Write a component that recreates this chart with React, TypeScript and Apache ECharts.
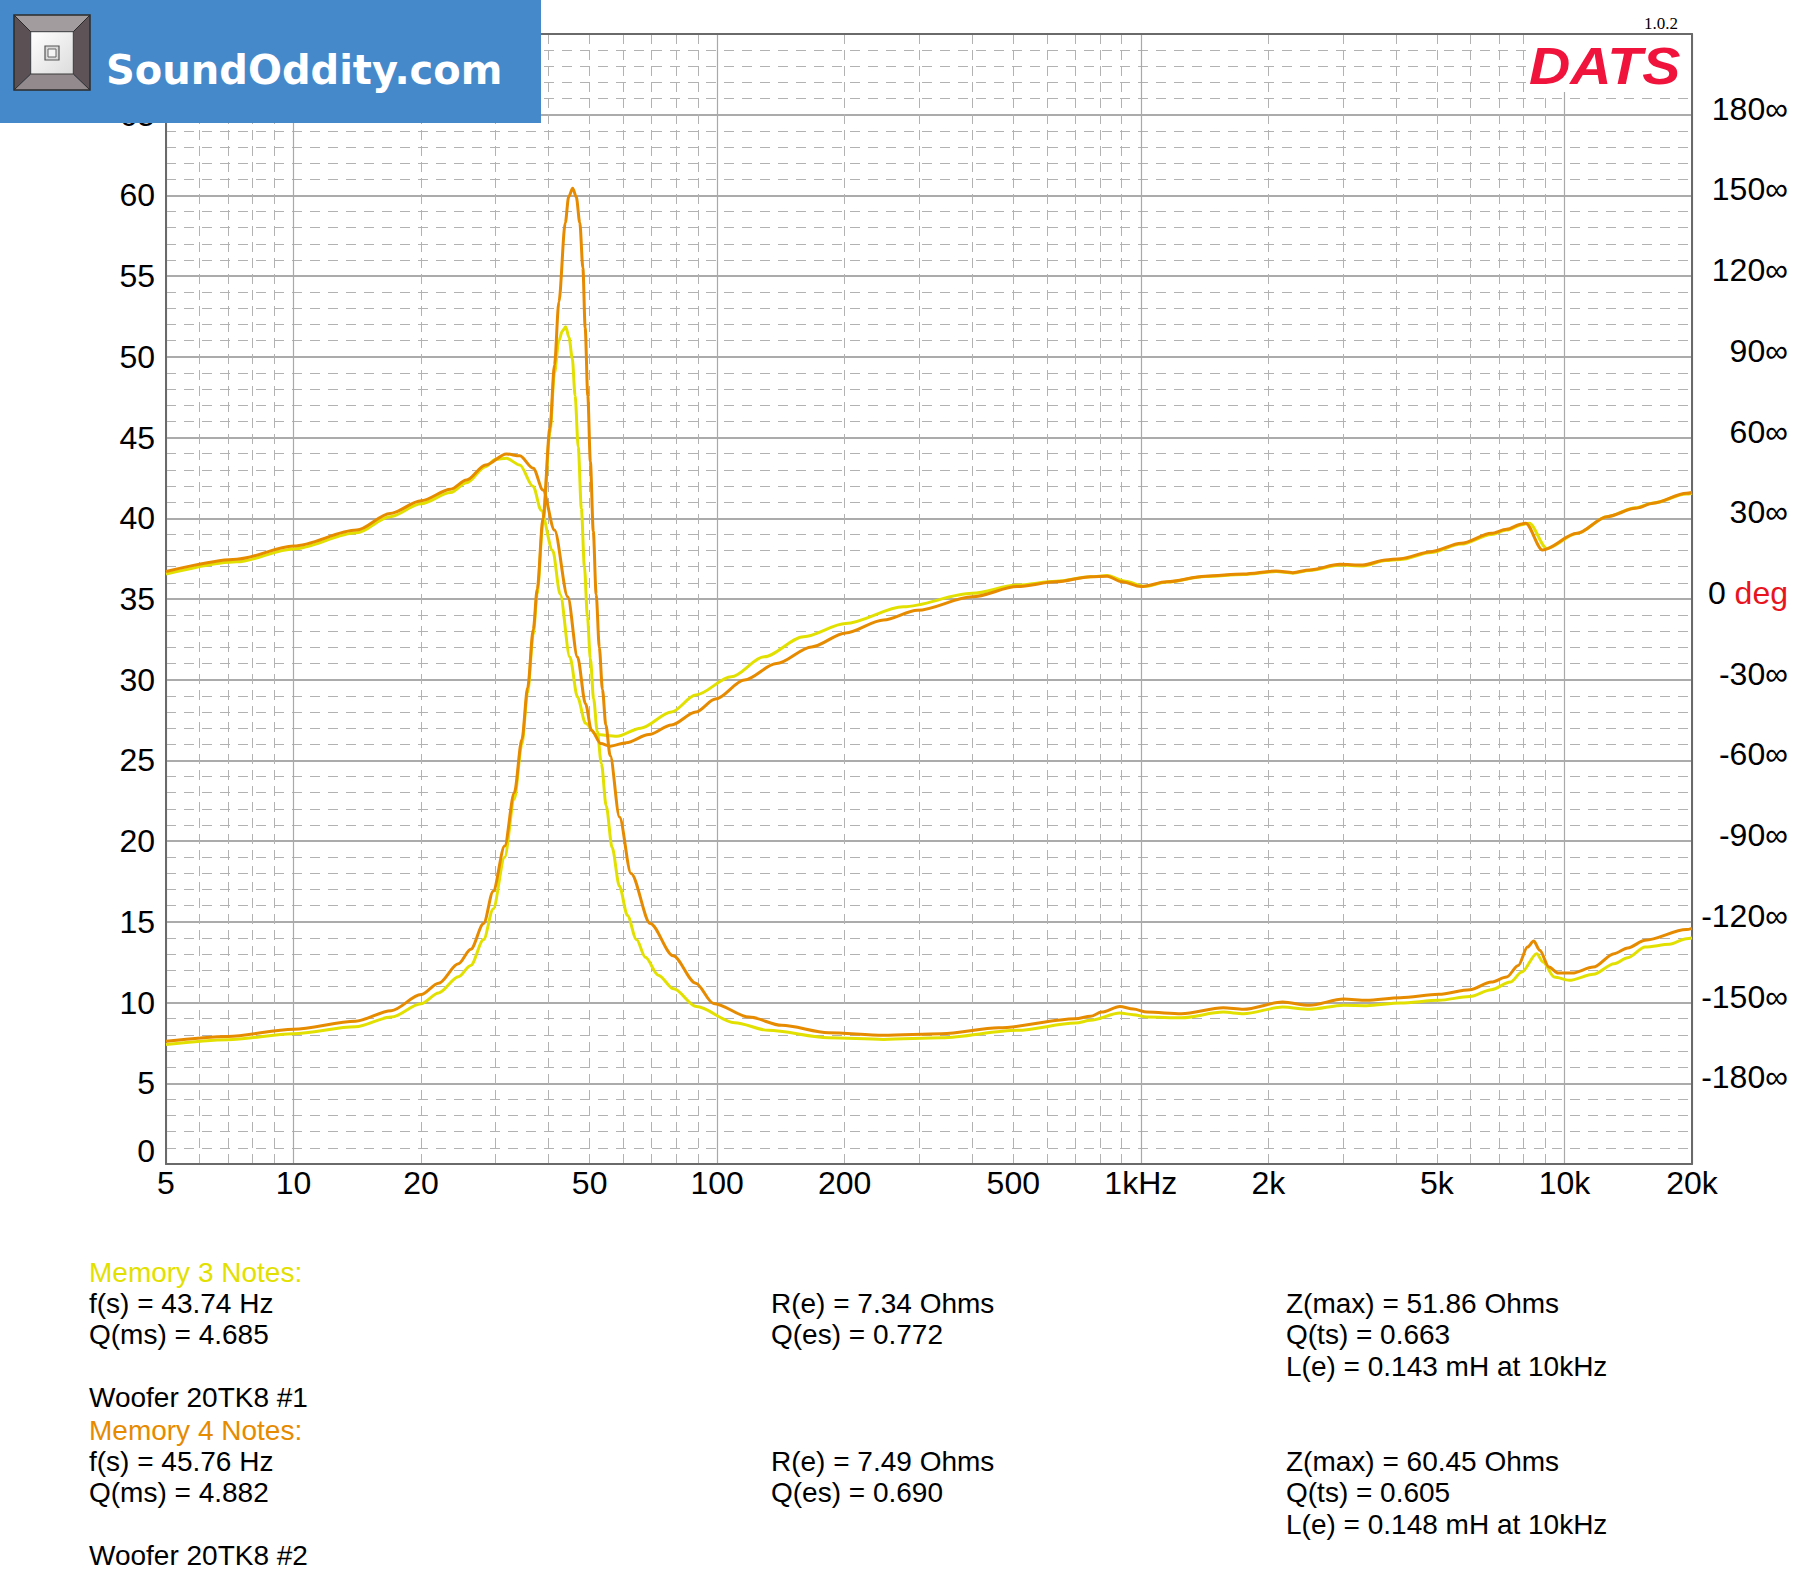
import React, { useEffect, useRef } from "react";
import * as echarts from "echarts";

// ---------- data ----------
const FREQ_LABELS = [5, 10, 20, 50, 100, 200, 500, 1000, 2000, 5000, 10000, 20000];
const FREQ_MINOR_GRID = [
  6, 7, 8, 9, 20, 30, 40, 50, 60, 70, 80, 90, 200, 300, 400, 500, 600, 700, 800, 900,
  2000, 3000, 4000, 5000, 6000, 7000, 8000, 9000,
];

// Impedance (Ohms) vs frequency (Hz)
const IMP_M3: [number, number][] = [
  [5, 7.4], [7, 7.7], [10, 8.07], [14, 8.5], [17, 9.1], [20, 9.93], [22, 10.6], [24.5, 11.6],
  [26.2, 12.3], [28.1, 13.9], [29.6, 15.8], [31.5, 19.0], [33.2, 22.6], [34.6, 26.0], [35.7, 29.2],
  [36.8, 32.8], [37.6, 35.3], [38.8, 39.7], [40.3, 45.3], [41.3, 49.0], [42.3, 51.0], [43.1, 51.6],
  [43.9, 51.86], [44.7, 51.2], [45.5, 49.9], [46.2, 47.6], [47.0, 44.4], [47.8, 40.6], [48.6, 37.0],
  [49.4, 33.9], [50.2, 31.3], [51.1, 28.8], [52.1, 26.8], [53.3, 24.8], [54.7, 22.2], [56.5, 19.6],
  [58.8, 17.2], [61.4, 15.4], [64.5, 13.9], [67.7, 12.8], [72.6, 11.7], [78.9, 10.85], [89.3, 9.75],
  [110, 8.75], [132, 8.28], [183, 7.82], [247, 7.72], [339, 7.82], [511, 8.28], [701, 8.73],
  [761, 8.9], [892, 9.35], [960, 9.25], [1034, 9.1], [1247, 9.06], [1565, 9.41], [1747, 9.31],
  [2160, 9.72], [2500, 9.58], [3010, 9.83], [3410, 9.81], [4100, 9.97], [5050, 10.14], [5980, 10.38],
  [6720, 10.8], [7450, 11.27], [7930, 11.89], [8600, 13.03], [8900, 12.51], [9460, 11.58],
  [10260, 11.38], [11700, 11.75], [13100, 12.41], [14100, 12.78], [15500, 13.44], [17700, 13.61],
  [19400, 13.96], [20000, 14.0],
];
const IMP_M4: [number, number][] = [
  [5, 7.6], [7, 7.9], [10, 8.35], [14, 8.85], [17, 9.5], [20, 10.5], [22, 11.2], [24.5, 12.4],
  [26.2, 13.3], [28.1, 14.9], [29.6, 16.9], [31.5, 19.7], [33.2, 23.0], [34.6, 26.3], [35.7, 29.5],
  [36.8, 33.1], [37.6, 35.6], [38.8, 40.0], [40.3, 45.6], [41.3, 49.5], [42.3, 53.4], [43.8, 58.3],
  [44.6, 59.9], [45.6, 60.45], [46.5, 59.9], [47.4, 58.3], [48.2, 55.5], [48.8, 51.8], [49.5, 47.6],
  [50.2, 43.5], [51.0, 39.2], [51.8, 35.3], [52.7, 32.0], [53.6, 29.4], [54.6, 27.2], [55.9, 25.3],
  [58.8, 21.5], [62.6, 18.0], [69.5, 14.9], [78.7, 12.9], [89, 11.2], [98, 9.95], [119, 9.1],
  [142, 8.59], [183, 8.13], [247, 7.97], [339, 8.07], [462, 8.44], [701, 9.0], [761, 9.15],
  [808, 9.41], [892, 9.76], [960, 9.6], [1034, 9.41], [1247, 9.31], [1565, 9.68], [1747, 9.58],
  [2160, 10.03], [2500, 9.83], [3010, 10.22], [3410, 10.14], [4100, 10.3], [5050, 10.51],
  [5980, 10.8], [6720, 11.27], [7300, 11.58], [7780, 12.3], [8180, 13.44], [8460, 13.81],
  [8740, 13.24], [9190, 12.2], [9660, 11.83], [10430, 11.83], [11700, 12.2], [13100, 13.03],
  [14100, 13.38], [15500, 13.86], [19400, 14.52], [20000, 14.6],
];

// Phase (degrees) vs frequency (Hz)
const PHASE_M3: [number, number][] = [
  [5, 9.3], [7.34, 13.8], [10, 18.6], [14.1, 24.6], [16.9, 30.6], [20, 35.4], [23.5, 39.6],
  [25.6, 43.2], [28.4, 49.2], [30, 51.9], [31.8, 52.3], [34.2, 49.8], [36.8, 41.8], [38.4, 33],
  [40.9, 18], [42.6, 1.8], [44.9, -21.6], [46.8, -36.4], [48.9, -46.2], [51.8, -50.4], [58, -51],
  [66, -48], [78, -42], [89, -35.7], [108, -28.9], [129, -21.5], [160, -14], [201, -9.1],
  [275, -2.9], [400, 2.1], [511, 5.2], [631, 6.6], [761, 8.3], [833, 8.7], [920, 6.6], [1020, 4.7],
  [1152, 6.3], [1418, 8.4], [1747, 9.1], [2086, 10.2], [2285, 9.6], [2500, 10.6], [2950, 12.6],
  [3340, 12.3], [3780, 14.3], [4100, 14.7], [4840, 17.3], [5700, 20.4], [6720, 24], [7300, 25.6],
  [7930, 27.6], [8260, 28.2], [9080, 18.8], [10700, 24.3], [12600, 30.6], [14700, 33.9],
  [16200, 35.7], [19400, 39], [20000, 39.3],
];
const PHASE_M4: [number, number][] = [
  [5, 10.2], [7.34, 14.8], [10, 19.7], [14.1, 25.6], [16.9, 31.8], [20, 36.5], [23.5, 40.8],
  [25.6, 44.2], [28.4, 49.8], [31.8, 53.9], [34.2, 53.2], [36.8, 48.6], [38.8, 40.5], [41.3, 25.6],
  [44.4, 0.8], [46.8, -21.6], [48.9, -39], [50.5, -48.8], [53.1, -53.7], [55.9, -54.7], [61, -53.4],
  [69, -50.4], [78, -46.8], [89, -42], [99, -37.2], [116, -30.1], [138, -24], [167, -17.8],
  [201, -12.6], [247, -7.8], [297, -4.2], [400, 0.8], [511, 4.6], [631, 6.4], [761, 8.3], [833, 8.5],
  [902, 6.4], [1000, 4.6], [1152, 6.4], [1418, 8.5], [1747, 9.3], [2086, 10.4], [2285, 9.8],
  [2500, 10.8], [2950, 12.9], [3340, 12.6], [3780, 14.5], [4100, 15], [4840, 17.6], [5700, 20.7],
  [6720, 24.4], [7300, 25.9], [7930, 27.9], [8100, 28.2], [8870, 18.2], [10700, 24.4],
  [12600, 30.6], [14700, 33.7], [16200, 35.6], [19400, 39.3], [20000, 39.6],
];

// Notes text
const M3_TITLE = "Memory 3 Notes:";
const M3_COL1 = ["f(s) = 43.74 Hz", "Q(ms) = 4.685"];
const M3_COL2 = ["R(e) = 7.34 Ohms", "Q(es) = 0.772"];
const M3_COL3 = ["Z(max) = 51.86 Ohms", "Q(ts) = 0.663", "L(e) = 0.143 mH at 10kHz"];
const M3_NAME = "Woofer 20TK8 #1";
const M4_TITLE = "Memory 4 Notes:";
const M4_COL1 = ["f(s) = 45.76 Hz", "Q(ms) = 4.882"];
const M4_COL2 = ["R(e) = 7.49 Ohms", "Q(es) = 0.690"];
const M4_COL3 = ["Z(max) = 60.45 Ohms", "Q(ts) = 0.605", "L(e) = 0.148 mH at 10kHz"];
const M4_NAME = "Woofer 20TK8 #2";

// ---------- styles ----------
const YELLOW = "#e2e000";
const ORANGE = "#e68a00";
const FONT = "'Liberation Sans', Arial, sans-serif";

function txt(x: number, y: number, text: string, fill = "#000", size = 28, extra: any = {}) {
  return {
    type: "text",
    x,
    y,
    z: 101,
    style: {
      text,
      fill,
      fontSize: size,
      fontFamily: FONT,
      textAlign: "left",
      align: "left",
      textVerticalAlign: "middle",
      verticalAlign: "middle",
      ...extra,
    },
  };
}

function buildNotes(): any[] {
  const els: any[] = [];
  const cx = [89, 771, 1286];
  const blocks = [
    { y0: 1272.5, title: M3_TITLE, color: YELLOW, c1: M3_COL1, c2: M3_COL2, c3: M3_COL3, name: M3_NAME },
    { y0: 1430.5, title: M4_TITLE, color: ORANGE, c1: M4_COL1, c2: M4_COL2, c3: M4_COL3, name: M4_NAME },
  ];
  const lh = 31.2;
  blocks.forEach((b) => {
    els.push(txt(cx[0], b.y0, b.title, b.color));
    b.c1.forEach((t, i) => els.push(txt(cx[0], b.y0 + lh * (i + 1), t)));
    b.c2.forEach((t, i) => els.push(txt(cx[1], b.y0 + lh * (i + 1), t)));
    b.c3.forEach((t, i) => els.push(txt(cx[2], b.y0 + lh * (i + 1), t)));
    els.push(txt(cx[0], b.y0 + lh * 4, b.name));
  });
  return els;
}

function buildBranding(): any[] {
  const z = 100;
  const L = 14, T = 15, R = 90, B = 90;
  const il = 30.7, it = 31.7, ir = 73.3, ib = 74;
  return [
    { type: "rect", z, shape: { x: 0, y: 0, width: 541, height: 123 }, style: { fill: "#4589cb" } },
    { type: "polygon", z, shape: { points: [[L, T], [R, T], [ir, it], [il, it]] }, style: { fill: "#a39c9f" } },
    { type: "polygon", z, shape: { points: [[L, T], [il, it], [il, ib], [L, B]] }, style: { fill: "#5b5155" } },
    { type: "polygon", z, shape: { points: [[R, T], [R, B], [ir, ib], [ir, it]] }, style: { fill: "#5e5458" } },
    { type: "polygon", z, shape: { points: [[L, B], [il, ib], [ir, ib], [R, B]] }, style: { fill: "#928a8d" } },
    {
      type: "rect", z, shape: { x: il, y: it, width: ir - il, height: ib - it },
      style: {
        fill: new echarts.graphic.LinearGradient(0, 0, 1, 1, [
          { offset: 0, color: "#ffffff" },
          { offset: 1, color: "#dcdcdc" },
        ]),
        stroke: "#3a3a3a", lineWidth: 1,
      },
    },
    { type: "rect", z, shape: { x: L, y: T, width: R - L, height: B - T }, style: { fill: "none", stroke: "#2b2b2b", lineWidth: 1.5 } },
    { type: "line", z, shape: { x1: L, y1: T, x2: il, y2: it }, style: { stroke: "#2b2b2b", lineWidth: 1 } },
    { type: "line", z, shape: { x1: R, y1: T, x2: ir, y2: it }, style: { stroke: "#2b2b2b", lineWidth: 1 } },
    { type: "line", z, shape: { x1: L, y1: B, x2: il, y2: ib }, style: { stroke: "#2b2b2b", lineWidth: 1 } },
    { type: "line", z, shape: { x1: R, y1: B, x2: ir, y2: ib }, style: { stroke: "#2b2b2b", lineWidth: 1 } },
    { type: "rect", z, shape: { x: 45, y: 46, width: 14, height: 14 }, style: { fill: "#d8d8d8", stroke: "#555", lineWidth: 1.2 } },
    { type: "rect", z, shape: { x: 48, y: 49, width: 8, height: 8 }, style: { fill: "#f4f4f4", stroke: "#666", lineWidth: 1 } },
    {
      type: "text", x: 106, y: 70, z: z + 1,
      style: {
        text: "SoundOddity.com", fill: "#ffffff", fontSize: 40, fontWeight: "bold",
        fontFamily: "'DejaVu Sans', sans-serif", textAlign: "left", align: "left",
        textVerticalAlign: "middle", verticalAlign: "middle",
      },
    },
    { type: "rect", z, shape: { x: 1528, y: 35, width: 163, height: 57 }, style: { fill: "#ffffff" } },
    {
      type: "text", x: 1529, y: 66, z: z + 1, scaleX: 1.1,
      style: {
        text: "DATS", fill: "#f0143c", fontSize: 52, fontWeight: "bold", fontStyle: "italic",
        fontFamily: FONT, textAlign: "left", align: "left",
        textVerticalAlign: "middle", verticalAlign: "middle",
      },
    },
    {
      type: "text", x: 1678, y: 23, z: z + 1,
      style: {
        text: "1.0.2", fill: "#000", fontSize: 17, fontFamily: "'Liberation Serif', serif",
        textAlign: "right", align: "right", textVerticalAlign: "middle", verticalAlign: "middle",
      },
    },
  ];
}

function freqLabel(v: number): string {
  if (v === 1000) return "1kHz";
  if (v > 1000) return `${v / 1000}k`;
  return String(v);
}

function lineSeries(name: string, data: [number, number][], color: string, yAxisIndex: number, z: number) {
  return {
    name,
    type: "line",
    xAxisIndex: 0,
    yAxisIndex,
    data,
    symbol: "none",
    showSymbol: false,
    smooth: 0.3,
    smoothMonotone: "x",
    clip: true,
    z,
    lineStyle: { color, width: 3 },
    itemStyle: { color },
  };
}

export default function App() {
  const ref = useRef<HTMLDivElement>(null);
  useEffect(() => {
    if (!ref.current) return;
    const chart = echarts.init(ref.current, undefined, { renderer: "svg" });
    const option: any = {
      animation: false,
      backgroundColor: "#ffffff",
      textStyle: { fontFamily: FONT },
      grid: { left: 166, right: 108, top: 34, bottom: 432, containLabel: false },
      xAxis: [
        {
          type: "log",
          logBase: 10,
          min: 5,
          max: 20000,
          position: "bottom",
          axisLine: { show: true, onZero: false, lineStyle: { color: "#6a6a6a", width: 2 } },
          axisTick: { show: false },
          axisLabel: {
            show: true,
            customValues: FREQ_LABELS,
            formatter: (v: number) => freqLabel(v),
            fontSize: 32,
            color: "#000",
            margin: 3,
            hideOverlap: false,
            showMinLabel: true,
            showMaxLabel: true,
          },
          splitLine: { show: true, lineStyle: { color: "#a9a9a9", width: 1.2 } },
        },
        {
          type: "log",
          logBase: 10,
          min: 5,
          max: 20000,
          position: "top",
          axisLine: { show: true, onZero: false, lineStyle: { color: "#6a6a6a", width: 2 } },
          axisTick: { show: false, customValues: FREQ_MINOR_GRID },
          axisLabel: { show: false },
          splitLine: { show: true, lineStyle: { color: "#b2b2b2", width: 1, type: [10, 6] } },
        },
      ],
      yAxis: [
        {
          type: "value",
          min: 0,
          max: 70,
          interval: 5,
          position: "left",
          axisLine: { show: true, onZero: false, lineStyle: { color: "#6a6a6a", width: 2 } },
          axisTick: { show: false },
          axisLabel: {
            fontSize: 32,
            color: "#000",
            margin: 11,
            formatter: (v: number) => (v >= 70 ? "" : v === 0 ? "{z|0}" : String(v)),
            rich: { z: { fontSize: 32, color: "#000", fontFamily: FONT, padding: [0, 0, 26, 0] } },
          },
          splitLine: { show: true, lineStyle: { color: "#8f8f8f", width: 1.5 } },
          minorTick: { show: false, splitNumber: 5 },
          minorSplitLine: { show: true, lineStyle: { color: "#b2b2b2", width: 1, type: [10, 8] } },
        },
        {
          type: "value",
          min: -210,
          max: 210,
          interval: 30,
          position: "right",
          axisLine: { show: true, onZero: false, lineStyle: { color: "#6a6a6a", width: 2 } },
          axisTick: { show: false },
          splitLine: { show: false },
          axisLabel: {
            fontSize: 32,
            color: "#000",
            align: "right",
            margin: 96,
            padding: [0, 0, 12, 0],
            formatter: (v: number) => {
              if (v < -180 || v > 180) return "";
              if (v === 0) return "{n|0 }{d|deg}";
              return `${v}∞`;
            },
            rich: {
              n: { fontSize: 32, color: "#000", fontFamily: FONT },
              d: { fontSize: 32, color: "#e8141e", fontFamily: FONT },
            },
          },
        },
      ],
      series: [
        lineSeries("Memory 3 Phase", PHASE_M3, YELLOW, 1, 2),
        lineSeries("Memory 3 Impedance", IMP_M3, YELLOW, 0, 3),
        lineSeries("Memory 4 Phase", PHASE_M4, ORANGE, 1, 4),
        lineSeries("Memory 4 Impedance", IMP_M4, ORANGE, 0, 5),
      ],
      graphic: { elements: [...buildBranding(), ...buildNotes()] },
    };
    chart.setOption(option);
    return () => chart.dispose();
  }, []);
  return (
    <div
      ref={ref}
      style={{ position: "absolute", left: 0, top: 0, width: 1800, height: 1596, background: "#fff" }}
    />
  );
}
